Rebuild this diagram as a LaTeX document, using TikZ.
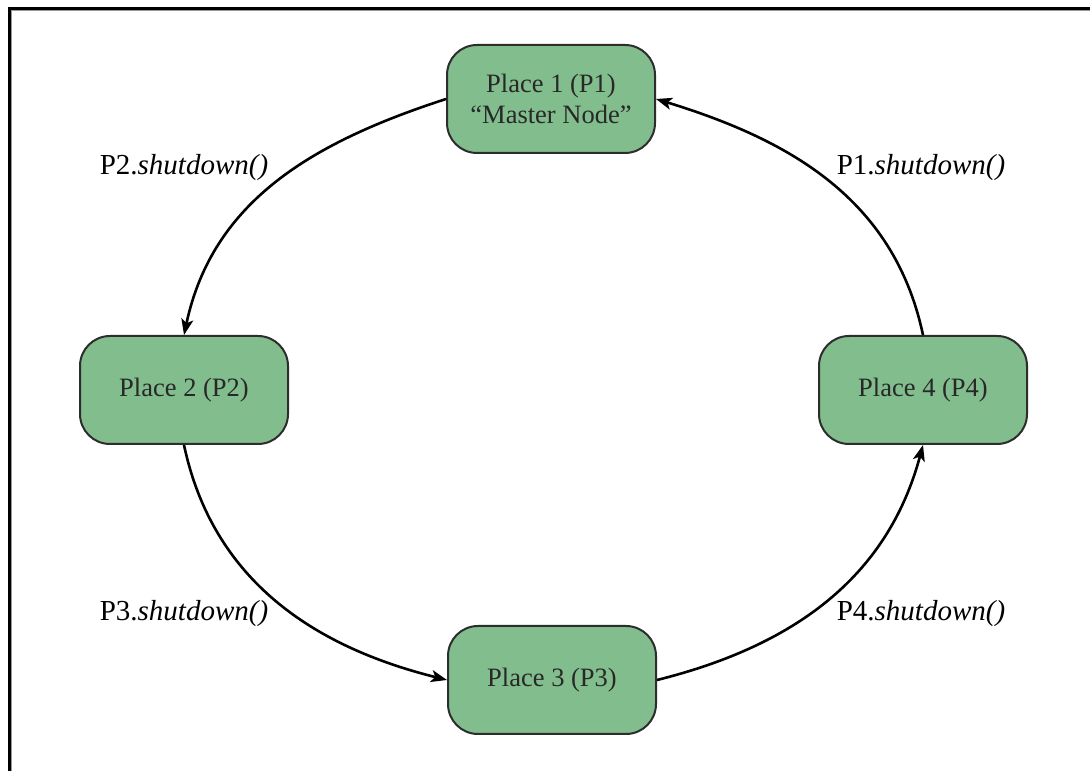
\documentclass[tikz,border=0pt]{standalone}
\usepackage{fontspec}
\setmainfont{Liberation Serif}
\usetikzlibrary{arrows.meta}
\definecolor{placefill}{RGB}{130,189,141}
\definecolor{placeline}{RGB}{45,45,45}
\definecolor{placetext}{RGB}{40,40,40}
\begin{document}
\begin{tikzpicture}[x=1pt,y=1pt,
  place/.style={draw=placeline, line width=2pt, fill=placefill, rounded corners=30pt,
    minimum width=208pt, minimum height=108pt, align=center, text=placetext,
    font=\fontsize{26.5}{31}\selectfont, inner sep=0pt},
  call/.style={font=\fontsize{29}{34}\selectfont, text=black, anchor=base},
  flow/.style={line width=2.6pt, -{Stealth[length=16pt,width=12pt,inset=4pt]}}]
  % page frame
  \useasboundingbox (0,0) rectangle (1090,771);
  \fill[white] (0,0) rectangle (1090,771);
  \draw[line width=3pt, black] (9.5,0) -- (9.5,762.5) -- (1090,762.5);
  \draw[line width=1pt, black!40] (11.5,0) -- (11.5,760.5) -- (1090,760.5);
  % places
  \node[place] (p1) at (551,672) {Place 1 (P1)\\“Master Node”};
  \node[place] (p2) at (184,381) {Place 2 (P2)};
  \node[place] (p3) at (552,91) {Place 3 (P3)};
  \node[place] (p4) at (923,381) {Place 4 (P4)};
  % shutdown ring
  \draw[flow] (p1.west) to[out=198, in=78] (p2.north);
  \draw[flow] (p2.south) to[out=-78, in=166] (p3.west);
  \draw[flow] (p3.east) to[out=14, in=255] (p4.south);
  \draw[flow] (p4.north) to[out=102, in=-17] (p1.east);
  % labels
  \node[call] (l2) at (184,596) {P2.\textit{shutdown()}};
  \node[call] (l1) at (921,596) {P1.\textit{shutdown()}};
  \node[call] (l3) at (184,150) {P3.\textit{shutdown()}};
  \node[call] (l4) at (921,150) {P4.\textit{shutdown()}};
\end{tikzpicture}
\end{document}
